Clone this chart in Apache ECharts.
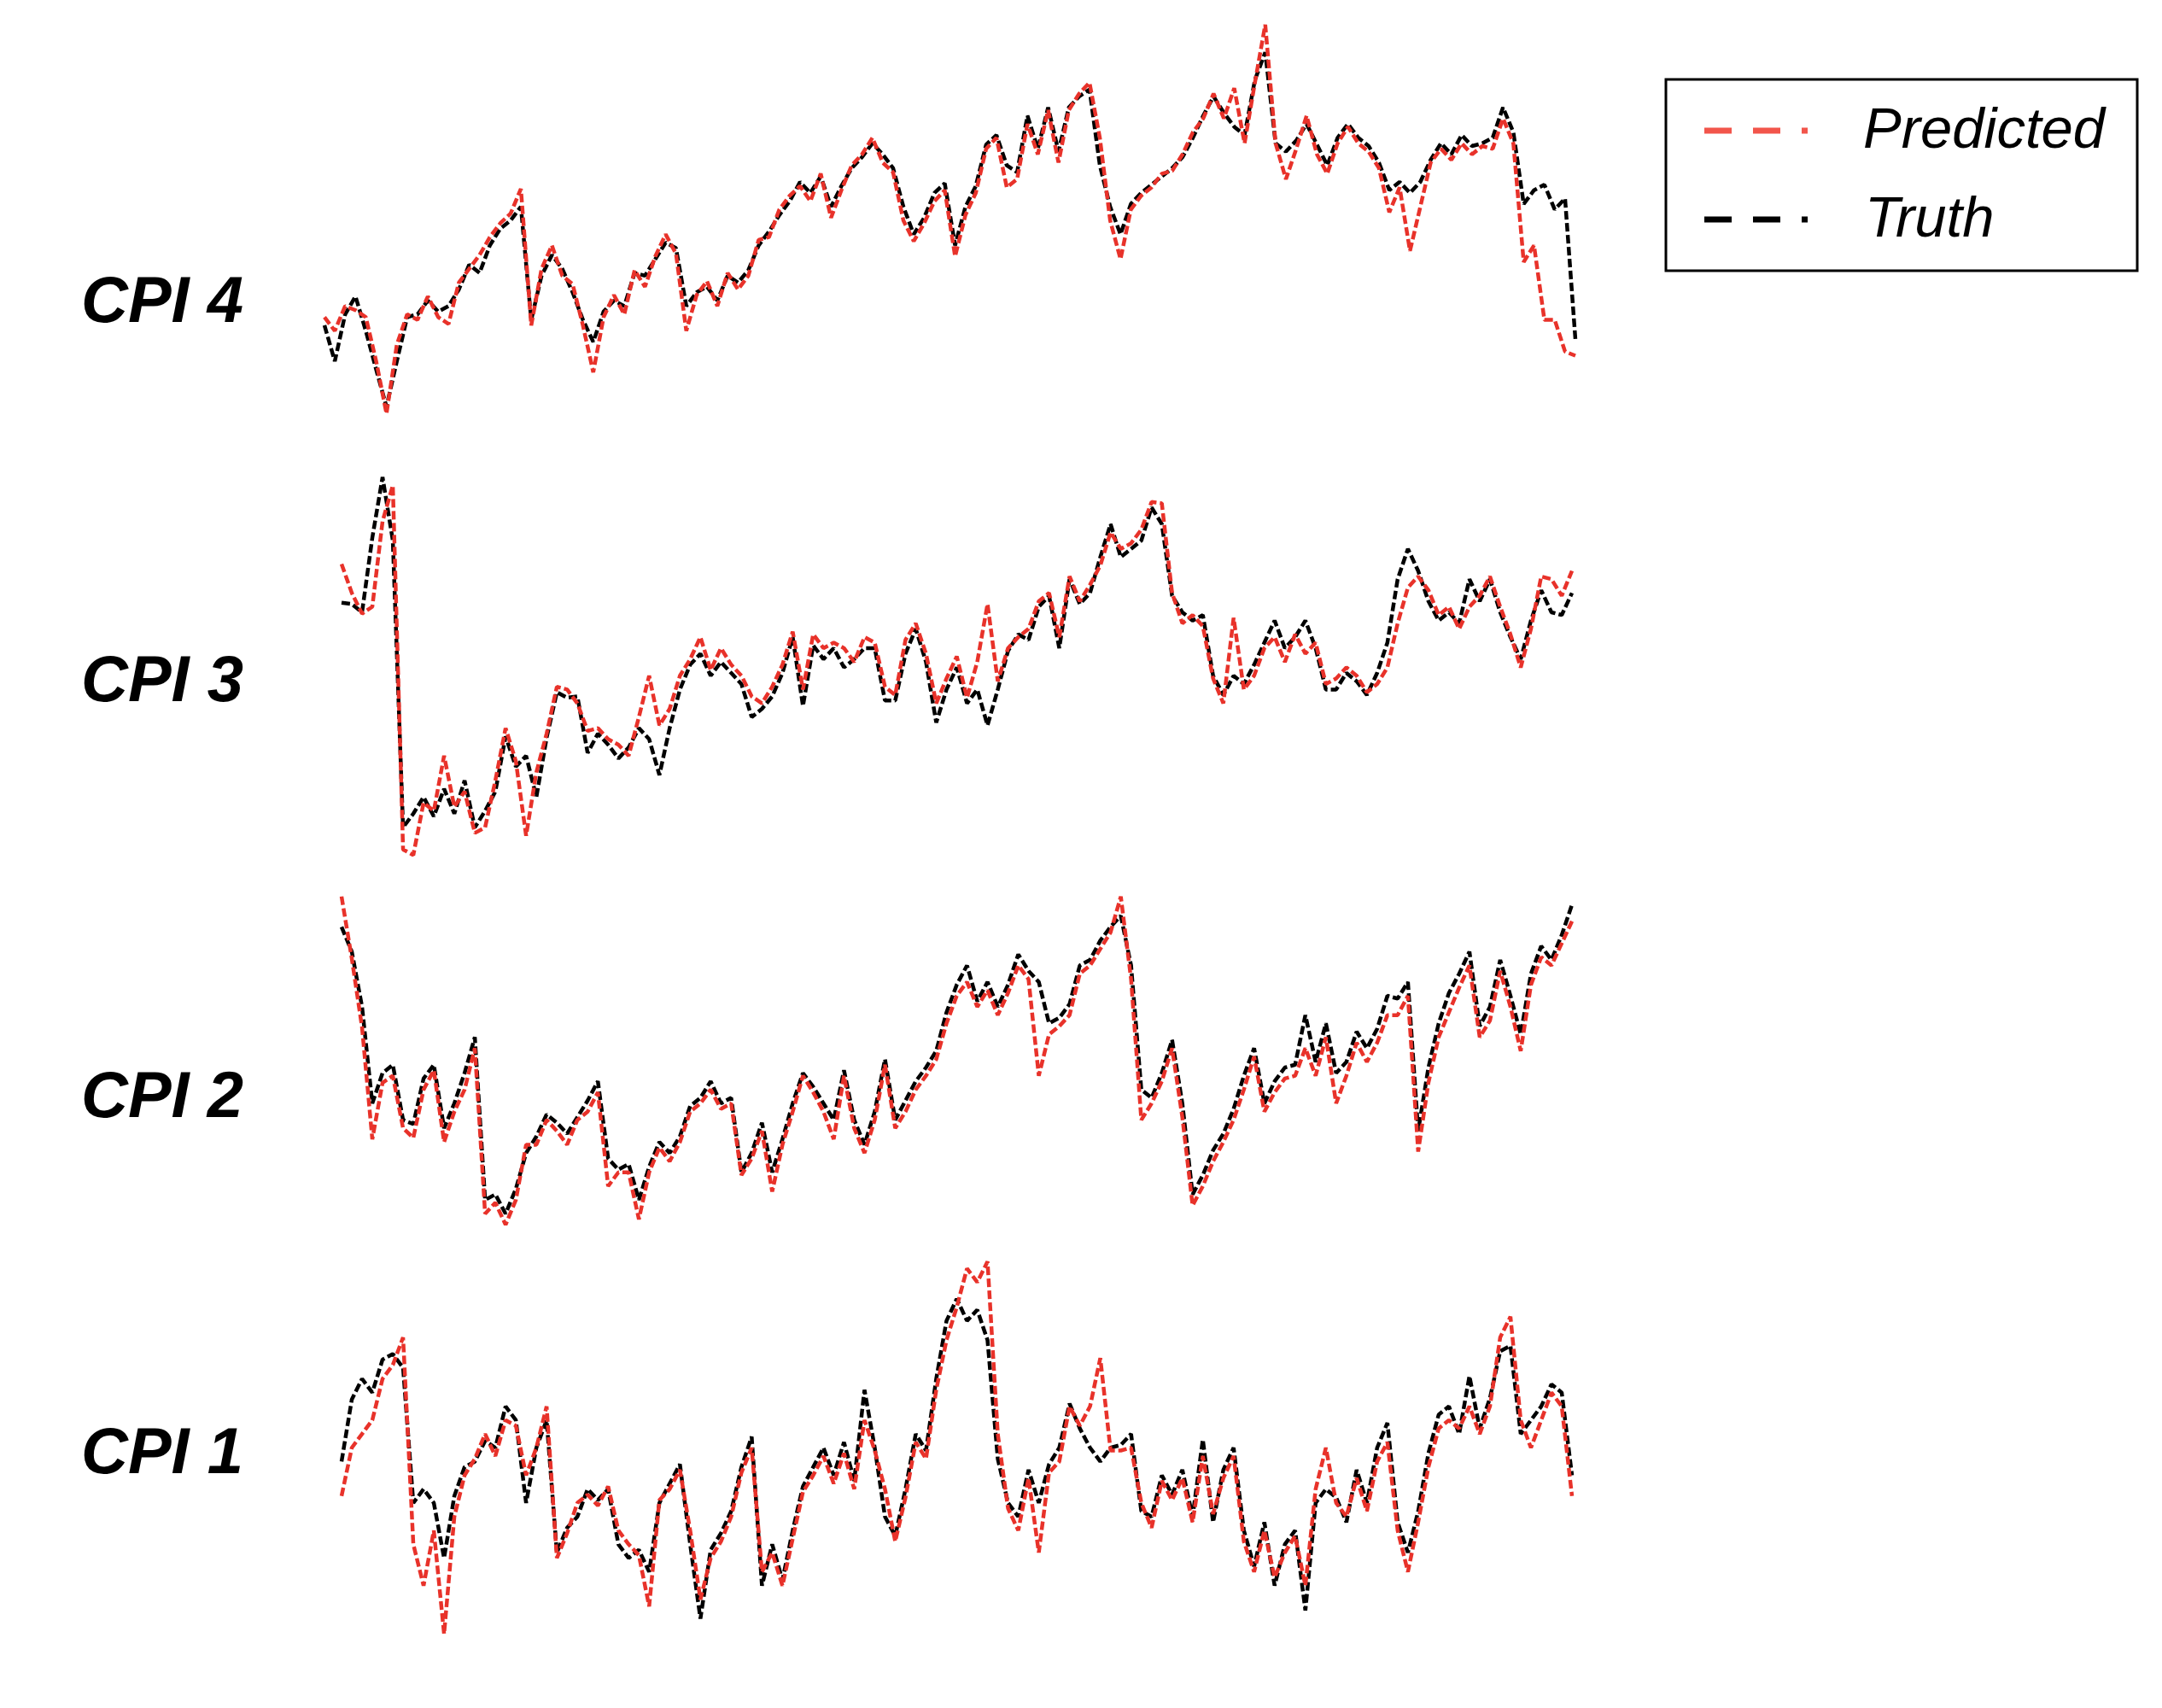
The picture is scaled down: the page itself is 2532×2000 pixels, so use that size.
<!DOCTYPE html>
<html>
<head>
<meta charset="utf-8">
<title>CPI predicted vs truth</title>
<script src="https://cdn.jsdelivr.net/npm/echarts@6.0.0/dist/echarts.min.js"></script>
<style>
  html, body { margin: 0; padding: 0; background: #fff; }
  #chart { width: 2532px; height: 2000px; }
</style>
</head>
<body>
<div id="chart"></div>
<script>
// values (arbitrary units, one sample per time step)
const cpi4Truth = [74,48,82,95,70,42,15,48,80,82,
  92,84,88,100,118,112,132,144,150,160,
  78,110,125,115,98,78,62,84,92,88,
  112,110,122,134,130,88,98,102,92,110,
  105,114,132,142,154,164,178,170,182,160,
  175,188,196,206,198,188,160,140,152,170,
  177,132,160,175,205,212,190,185,226,202,
  232,200,232,240,245,190,160,140,162,170,
  176,182,188,196,210,226,240,228,218,212,
  252,272,206,200,208,220,205,190,210,220,
  210,204,192,172,178,170,178,194,206,198,
  212,204,206,210,232,214,162,172,176,158,
  166,64];
const cpi4Pred = [80,70,88,85,80,48,10,60,82,78,
  95,80,75,105,115,125,138,148,155,173,
  74,115,132,110,104,74,40,80,96,82,
  114,102,124,140,126,70,96,106,88,112,
  100,110,136,138,158,168,175,164,184,152,
  172,190,198,210,192,185,150,135,148,164,
  172,124,154,170,202,210,174,180,220,198,
  230,192,230,242,250,210,150,122,158,168,
  174,184,186,198,214,224,242,224,246,206,
  250,292,206,180,202,226,198,184,206,218,
  206,200,188,156,174,128,160,192,202,194,
  206,198,204,202,224,206,120,132,78,78,
  55,52];

const cpi3Truth = [203,202,196,250,294,248,40,50,62,48,
  68,50,74,40,52,66,106,84,92,62,
  105,138,134,135,94,108,100,90,98,112,
  104,78,112,140,158,166,150,160,152,144,
  120,126,135,152,178,128,172,162,170,156,
  162,170,170,132,132,166,184,160,116,140,
  156,130,140,114,140,168,180,176,200,208,
  170,220,202,210,236,260,236,242,248,272,
  260,208,196,190,194,150,136,150,144,158,
  174,190,170,178,190,170,140,140,152,146,
  136,152,174,220,242,226,204,190,196,188,
  220,204,220,196,178,162,190,212,196,194,
  210];
const cpi3Pred = [231,210,195,200,262,288,24,20,58,52,
  92,55,66,36,40,74,112,88,34,80,
  108,142,140,130,110,112,104,100,92,120,
  150,114,126,150,162,178,154,170,158,150,
  135,130,142,158,182,140,180,170,174,170,
  160,178,174,142,136,176,188,166,130,148,
  164,134,160,202,146,170,178,184,204,210,
  178,222,204,216,230,254,242,246,256,276,
  275,210,188,194,186,148,130,192,140,150,
  170,178,160,180,166,174,144,148,156,150,
  138,144,156,188,214,222,212,194,200,184,
  200,208,222,200,180,156,184,222,220,208,
  226];

const cpi2Truth = [228,210,170,100,122,128,88,85,118,128,
  82,100,122,148,30,34,20,38,64,76,
  92,86,78,90,102,116,60,52,56,30,
  54,72,64,76,98,104,116,100,104,50,
  64,86,50,74,100,122,112,100,88,124,
  88,70,94,132,88,102,116,126,138,166,
  186,200,174,188,170,186,208,196,188,158,
  162,172,200,204,218,228,236,200,110,104,
  122,146,100,34,48,66,78,96,120,140,
  100,116,126,128,164,130,158,122,130,152,
  140,154,178,176,188,80,126,158,180,194,
  210,156,170,204,178,150,194,214,204,222,
  244];
const cpi2Pred = [250,205,155,74,115,120,82,75,110,124,
  72,94,110,140,20,28,12,30,70,70,
  88,80,70,88,94,108,40,50,50,16,
  50,68,58,72,94,100,110,96,100,48,
  60,80,36,70,94,120,108,94,74,120,
  82,64,88,128,82,94,110,120,132,158,
  178,188,170,182,164,180,200,190,120,150,
  156,164,194,200,212,224,250,190,88,100,
  116,140,90,26,40,58,72,88,110,134,
  94,108,118,120,140,120,148,100,120,144,
  130,144,164,164,178,65,115,148,166,184,
  200,148,160,196,170,138,186,206,200,216,
  232];

const cpi1Truth = [140,185,200,190,214,218,208,110,120,110,
  70,115,136,140,155,150,180,170,110,150,
  170,74,92,100,120,112,120,80,70,76,
  60,110,124,138,80,26,76,88,104,136,
  158,50,80,54,90,122,136,150,130,154,
  126,192,150,100,86,120,160,148,200,242,
  258,242,250,228,142,110,100,134,110,138,
  150,182,164,150,140,150,152,160,104,100,
  130,116,134,100,156,96,134,150,90,64,
  96,50,80,90,32,110,120,114,96,134,
  110,150,168,96,74,104,146,174,180,160,
  202,164,186,220,224,160,170,180,196,190,
  130];
const cpi1Pred = [115,150,160,170,200,210,230,80,50,90,
  15,100,130,142,160,144,170,166,130,150,
  180,70,88,110,116,108,122,90,80,72,
  35,112,120,134,90,40,70,82,100,132,
  150,60,74,50,84,118,130,144,124,146,
  120,170,148,120,82,114,154,142,192,228,
  252,280,270,285,160,106,90,128,74,132,
  140,180,166,180,215,148,148,150,110,92,
  126,112,128,96,144,102,128,144,82,60,
  90,56,74,86,50,120,150,110,100,128,
  104,140,154,90,60,96,136,164,170,164,
  180,160,180,230,245,170,150,170,190,180,
  115];

const seriesNames = ['Predicted', 'Truth'];

// layout of the four stacked panels (pixels)
const panels = [
  { label: 'CPI 4', truth: cpi4Truth, pred: cpi4Pred, left: 380, right: 687, top: 16, labelY: 356 },
  { label: 'CPI 3', truth: cpi3Truth, pred: cpi3Pred, left: 400, right: 691, top: 549, labelY: 800 },
  { label: 'CPI 2', truth: cpi2Truth, pred: cpi2Pred, left: 400, right: 691, top: 969, labelY: 1287 },
  { label: 'CPI 1', truth: cpi1Truth, pred: cpi1Pred, left: 400, right: 691, top: 1453, labelY: 1704 }
];

const predColor = '#E8322A';
const truthColor = '#000000';
const font = '"Liberation Sans", Arial, Helvetica, sans-serif';

const chart = echarts.init(document.getElementById('chart'), null, { renderer: 'canvas' });

let grid = [], xAxis = [], yAxis = [], series = [], graphic = [];

panels.forEach((p, k) => {
  grid.push({ left: p.left, right: p.right, top: p.top, height: 484.5 });
  xAxis.push({ type: 'value', gridIndex: k, min: 0, max: p.truth.length - 1, show: false });
  yAxis.push({ type: 'value', gridIndex: k, min: 0, max: 300, show: false });

  // truth underneath, prediction on top
  series.push({
    name: seriesNames[1], type: 'line', xAxisIndex: k, yAxisIndex: k,
    data: p.truth.map((v, i) => [i, v]),
    symbol: 'none', silent: true,
    lineStyle: { color: truthColor, width: 4.5, type: [10, 4] }
  });
  series.push({
    name: seriesNames[0], type: 'line', xAxisIndex: k, yAxisIndex: k,
    data: p.pred.map((v, i) => [i, v]),
    symbol: 'none', silent: true,
    lineStyle: { color: predColor, width: 4.5, type: [10, 4] }
  });

  graphic.push({
    type: 'text', x: 95, y: p.labelY, silent: true,
    style: {
      text: p.label, fill: '#000', font: 'italic bold 76px ' + font,
      align: 'left', verticalAlign: 'middle'
    }
  });
});

// legend box
graphic.push({
  type: 'rect', silent: true,
  shape: { x: 1951, y: 93, width: 552, height: 224 },
  style: { fill: '#fff', stroke: '#000', lineWidth: 3 }
});
graphic.push({
  type: 'line', silent: true,
  shape: { x1: 1996, y1: 153, x2: 2117, y2: 153 },
  style: { stroke: '#F2554B', lineWidth: 7, lineDash: [32, 25] }
});
graphic.push({
  type: 'line', silent: true,
  shape: { x1: 1996, y1: 257, x2: 2117, y2: 257 },
  style: { stroke: truthColor, lineWidth: 7, lineDash: [32, 25] }
});
graphic.push({
  type: 'text', x: 2182, y: 154, silent: true,
  style: { text: seriesNames[0], fill: '#000', font: 'italic 67px ' + font, verticalAlign: 'middle' }
});
graphic.push({
  type: 'text', x: 2184, y: 258, silent: true,
  style: { text: seriesNames[1], fill: '#000', font: 'italic 67px ' + font, verticalAlign: 'middle' }
});

let option = {
  backgroundColor: '#fff',
  animation: false,
  grid: grid,
  xAxis: xAxis,
  yAxis: yAxis,
  series: series,
  graphic: graphic
};

chart.setOption(option);
</script>
</body>
</html>
